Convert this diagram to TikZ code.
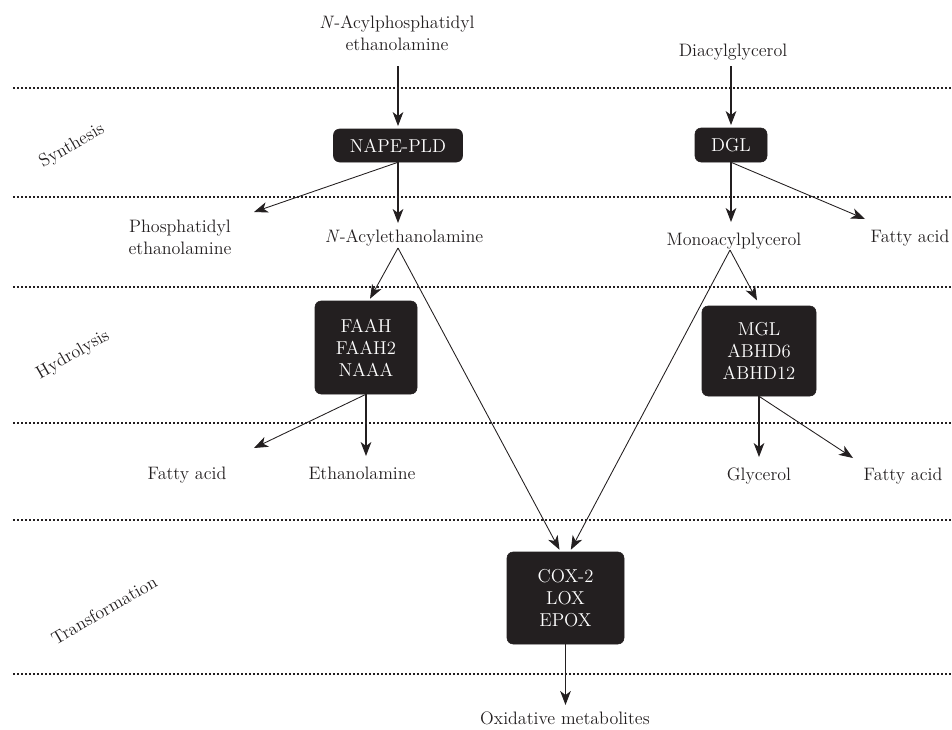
\documentclass[tikz,border=0pt]{standalone}
\usetikzlibrary{arrows.meta}
\definecolor{ink}{RGB}{35,31,32}
\begin{document}
\begin{tikzpicture}[x=0.75pt,y=-0.75pt,
  lbl/.style={font=\fontsize{13.5}{16.5}\selectfont, text=ink, align=center, inner sep=0pt},
  side/.style={lbl, rotate=30},
  enz/.style={fill=ink, draw=ink, rounded corners=4.5pt, text=white,
    font=\fontsize{14}{16.5}\selectfont, align=center, inner sep=0pt},
  arr/.style={draw=ink, line width=0.8pt, -{Stealth[length=10.5pt,width=8pt,inset=3pt]}},
  thin arr/.style={arr, line width=0.65pt},
  band/.style={draw=ink, line width=1.2pt, dash pattern=on 1.2pt off 1.8pt}]
\useasboundingbox (0,0) rectangle (952,729);

% band separators
\foreach \yy in {88,197,287,423,520,674}
  \draw[band] (13,\yy) -- (952,\yy);

% side labels
\node[side] (synth) at (72,146) {Synthesis};
\node[side] (hydro) at (73,355) {Hydrolysis};
\node[side] (trans) at (104,610) {Transformation};

% substrates and products (multi-line nodes: base = last line)
\node[lbl, anchor=base] (nape) at (397,50) {\textit{N}-Acylphosphatidyl\\ethanolamine};
\node[lbl, anchor=base] (dag) at (733,56) {Diacylglycerol};
\node[lbl, anchor=base] (pe) at (180,254) {Phosphatidyl\\ethanolamine};
\node[lbl, anchor=base] (nae) at (404,242) {\textit{N}-Acylethanolamine};
\node[lbl, anchor=base] (mag) at (734,245) {Monoacylplycerol};
\node[lbl, anchor=base] (fa1) at (910,242) {Fatty acid};
\node[lbl, anchor=base] (fa2) at (187,479) {Fatty acid};
\node[lbl, anchor=base] (ea) at (362,479) {Ethanolamine};
\node[lbl, anchor=base] (gly) at (759,480) {Glycerol};
\node[lbl, anchor=base] (fa3) at (903,480) {Fatty acid};
\node[lbl, anchor=base] (ox) at (565,724) {Oxidative metabolites};

% enzymes
\node[enz, minimum width=96.75pt, minimum height=24.75pt] (npld) at (398,145.5) {NAPE-PLD};
\node[enz, minimum width=54pt, minimum height=25.5pt] (dgl) at (731,145) {DGL};
\node[enz, minimum width=76.5pt, minimum height=69.75pt] (faah) at (366,347.5) {FAAH\\FAAH2\\NAAA};
\node[enz, minimum width=85.5pt, minimum height=67.5pt] (mgl) at (759,351) {MGL\\ABHD6\\ABHD12};
\node[enz, minimum width=87.75pt, minimum height=69pt] (cox) at (565.5,598) {COX-2\\LOX\\EPOX};

% connector end points
\coordinate (napeOut) at (398,66);
\coordinate (dagOut) at (731,66);
\coordinate (peIn) at (254,212);
\coordinate (naeIn) at (398,223);
\coordinate (naeOut) at (398,248);
\coordinate (magIn) at (731,222);
\coordinate (magOut) at (730,250);
\coordinate (fa1In) at (865,219);
\coordinate (fa2In) at (254,448);
\coordinate (eaIn) at (366,456);
\coordinate (glyIn) at (759,457);
\coordinate (fa3In) at (853,458);
\coordinate (oxIn) at (565.5,705);

% synthesis
\draw[arr] (napeOut) -- ([yshift=2pt]npld.north);
\draw[arr] (npld.south) -- (naeIn);
\draw[thin arr] (npld.south) -- (peIn);
\draw[arr] (dagOut) -- ([yshift=2pt]dgl.north);
\draw[arr] (dgl.south) -- (magIn);
\draw[thin arr] (dgl.south) -- (fa1In);

% hydrolysis
\draw[thin arr] (naeOut) -- ([xshift=3pt,yshift=1.5pt]faah.north);
\draw[thin arr] (magOut) -- ([xshift=-1.5pt,yshift=4pt]mgl.north);
\draw[thin arr] (faah.south) -- (fa2In);
\draw[arr] (faah.south) -- (eaIn);
\draw[arr] (mgl.south) -- (glyIn);
\draw[thin arr] (mgl.south) -- (fa3In);

% transformation
\draw[thin arr] (naeOut) -- ([xshift=-4.5pt,yshift=1.5pt]cox.north);
\draw[thin arr] (magOut) -- ([xshift=4pt,yshift=1.5pt]cox.north);
\draw[arr] (cox.south) -- (oxIn);
\end{tikzpicture}
\end{document}
